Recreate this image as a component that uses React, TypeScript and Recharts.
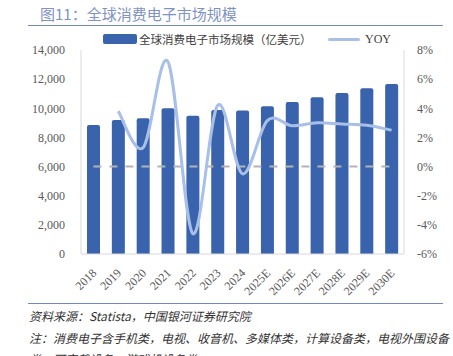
import React from "react";
import { ComposedChart, Bar, Line, XAxis, YAxis } from "recharts";

const categories = ["2018", "2019", "2020", "2021", "2022", "2023", "2024", "2025E", "2026E", "2027E", "2028E", "2029E", "2030E"];
const marketSize = [8850, 9200, 9310, 10000, 9490, 9880, 9840, 10140, 10430, 10750, 11050, 11370, 11670];
const yoy = [null, 3.8, 1.3, 7.2, -4.6, 4.2, -0.5, 3.15, 2.8, 3.0, 2.92, 2.83, 2.5];
const zeroBaseline = [0, 0, 0, 0, 0, 0, 0, 0, 0, 0, 0, 0, 0];
const leftTicks = [0, 2000, 4000, 6000, 8000, 10000, 12000, 14000];
const rightTicks = [-6, -4, -2, 0, 2, 4, 6, 8];

const data = categories.map((c, i) => ({
  name: c,
  size: marketSize[i],
  yoy: yoy[i],
  zero: zeroBaseline[i],
}));

// Excel-like smoothing (uniform Catmull-Rom through points)
const catmullRom = (context: any) => {
  let pts: number[][] = [];
  return {
    areaStart() {},
    areaEnd() {},
    lineStart() {
      pts = [];
    },
    point(x: number, y: number) {
      pts.push([+x, +y]);
    },
    lineEnd() {
      const n = pts.length;
      if (!n) return;
      context.moveTo(pts[0][0], pts[0][1]);
      if (n === 1) {
        context.lineTo(pts[0][0], pts[0][1]);
        return;
      }
      for (let i = 0; i < n - 1; i++) {
        const p0 = pts[i - 1] || pts[i];
        const p1 = pts[i];
        const p2 = pts[i + 1];
        const p3 = pts[i + 2] || p2;
        const c1x = p1[0] + (p2[0] - p0[0]) / 6;
        const c1y = p1[1] + (p2[1] - p0[1]) / 6;
        const c2x = p2[0] - (p3[0] - p1[0]) / 6;
        const c2y = p2[1] - (p3[1] - p1[1]) / 6;
        context.bezierCurveTo(c1x, c1y, c2x, c2y, p2[0], p2[1]);
      }
    },
  };
};

const serif = "'Liberation Serif', 'DejaVu Serif', serif";
const cjk = "'Noto Sans CJK SC', sans-serif";

const XTick = (props: any) => {
  const { x, y, payload } = props;
  const ax = x + 1;
  const ay = y + 9;
  return (
    <text
      x={ax}
      y={ay}
      textAnchor="end"
      dominantBaseline="central"
      transform={`rotate(-45 ${ax} ${ay})`}
      fontSize={12}
      fontFamily={serif}
      fill="#595959"
    >
      {payload.value}
    </text>
  );
};

export default function App() {
  return (
    <div
      style={{
        position: "absolute",
        left: 0,
        top: 0,
        width: 453,
        height: 356,
        overflow: "hidden",
        background: "#fff",
      }}
    >
      <div
        style={{
          position: "absolute",
          left: 40,
          top: 4,
          fontSize: 15,
          lineHeight: "20px",
          fontFamily: cjk,
          color: "#7f93c5",
          whiteSpace: "nowrap",
        }}
      >
        图11：全球消费电子市场规模
      </div>
      <div style={{ position: "absolute", left: 28, top: 24.5, width: 415, height: 1.5, background: "#7088c4" }} />

      {/* Legend */}
      <div style={{ position: "absolute", left: 103, top: 34, width: 34, height: 10, background: "#3a63ad", borderRadius: 2 }} />
      <div
        style={{
          position: "absolute",
          left: 139,
          top: 31,
          fontSize: 11.5,
          lineHeight: "16px",
          fontFamily: cjk,
          color: "#404040",
          whiteSpace: "nowrap",
        }}
      >
        全球消费电子市场规模（亿美元）
      </div>
      <div style={{ position: "absolute", left: 328, top: 37.5, width: 32, height: 3, background: "#a8bfe8", borderRadius: 1.5 }} />
      <div
        style={{
          position: "absolute",
          left: 365,
          top: 31,
          fontSize: 12,
          lineHeight: "16px",
          fontFamily: serif,
          color: "#404040",
          whiteSpace: "nowrap",
        }}
      >
        YOY
      </div>

      <div style={{ position: "absolute", left: 0, top: 0 }}>
        <ComposedChart width={453} height={356} data={data} margin={{ top: 50, right: 0, bottom: 42, left: 0 }}>
          <XAxis
            dataKey="name"
            height={60}
            interval={0}
            tickLine={false}
            tickSize={6}
            tickMargin={2}
            axisLine={{ stroke: "#d9d9d9" }}
            tick={<XTick />}
          />
          <YAxis
            yAxisId="left"
            orientation="left"
            width={81}
            domain={[0, 14000]}
            ticks={leftTicks}
            interval={0}
            tickLine={false}
            tickSize={6}
            tickMargin={10}
            axisLine={{ stroke: "#d9d9d9" }}
            tick={{ fontSize: 12, fontFamily: serif, fill: "#595959" }}
            tickFormatter={(v: number) => v.toLocaleString("en-US")}
          />
          <YAxis
            yAxisId="right"
            orientation="right"
            width={49}
            domain={[-6, 8]}
            ticks={rightTicks}
            interval={0}
            tickLine={false}
            tickSize={6}
            tickMargin={7}
            axisLine={{ stroke: "#d9d9d9" }}
            tick={{ fontSize: 12, fontFamily: serif, fill: "#595959" }}
            tickFormatter={(v: number) => `${v}%`}
          />
          <Bar
            yAxisId="left"
            dataKey="size"
            fill="#3a63ad"
            barSize={13}
            radius={[2, 2, 0, 0]}
            isAnimationActive={false}
          />
          <Line
            yAxisId="right"
            dataKey="zero"
            type="linear"
            stroke="#b4b4b4"
            strokeWidth={2}
            strokeDasharray="8 8"
            dot={false}
            activeDot={false}
            isAnimationActive={false}
          />
          <Line
            yAxisId="right"
            dataKey="yoy"
            type={catmullRom as any}
            stroke="#a8bfe8"
            strokeWidth={3}
            dot={false}
            activeDot={false}
            isAnimationActive={false}
          />
        </ComposedChart>
      </div>

      {/* Footer */}
      <div style={{ position: "absolute", left: 28, top: 302.5, width: 415, height: 1, background: "#7088c4" }} />
      <div
        style={{
          position: "absolute",
          left: 29,
          top: 307,
          fontSize: 12,
          lineHeight: "18px",
          fontFamily: cjk,
          fontStyle: "italic",
          color: "#333",
          whiteSpace: "nowrap",
        }}
      >
        资料来源：Statista，中国银河证券研究院
      </div>
      <div
        style={{
          position: "absolute",
          left: 29,
          top: 329,
          fontSize: 12,
          lineHeight: "18px",
          fontFamily: cjk,
          fontStyle: "italic",
          color: "#333",
          whiteSpace: "nowrap",
        }}
      >
        注：消费电子含手机类，电视、收音机、多媒体类，计算设备类，电视外围设备
      </div>
      <div
        style={{
          position: "absolute",
          left: 29,
          top: 350,
          fontSize: 12,
          lineHeight: "18px",
          fontFamily: cjk,
          fontStyle: "italic",
          color: "#333",
          whiteSpace: "nowrap",
        }}
      >
        类，可穿戴设备，游戏机设备类
      </div>
    </div>
  );
}
